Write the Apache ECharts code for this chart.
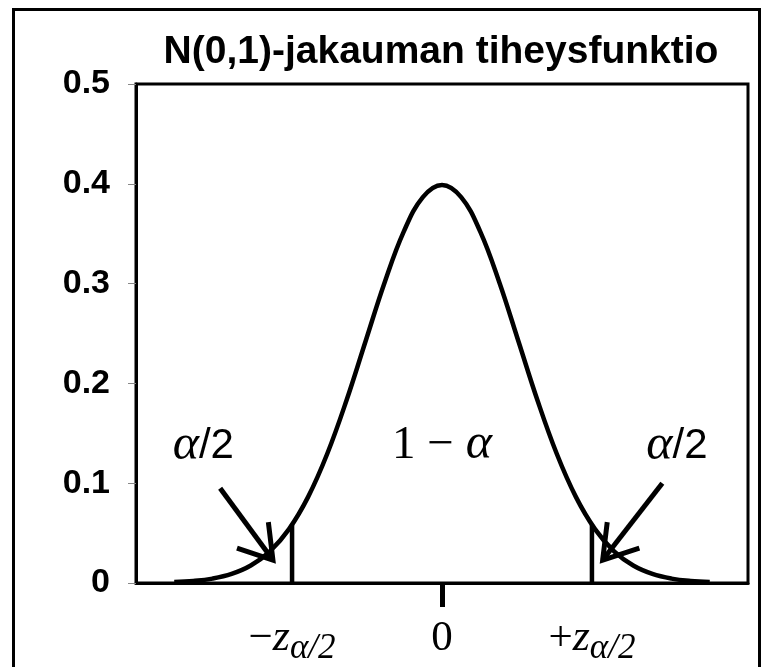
<!DOCTYPE html>
<html>
<head>
<meta charset="utf-8">
<script src="https://cdn.jsdelivr.net/npm/echarts@6/dist/echarts.min.js"></script>
<style>
  html, body { margin: 0; padding: 0; background: #fff; }
  #chart { width: 762px; height: 667px; }
</style>
</head>
<body>
<div id="chart"></div>
<script>
// ---- data ----
const titleText = 'N(0,1)-jakauman tiheysfunktio';
const xValues = [-3.5, -3.25, -3, -2.75, -2.5, -2.25, -2, -1.75, -1.5, -1.25, -1, -0.75, -0.5, -0.25,
                 0, 0.25, 0.5, 0.75, 1, 1.25, 1.5, 1.75, 2, 2.25, 2.5, 2.75, 3, 3.25, 3.5];
const density = [0.0009, 0.0020, 0.0044, 0.0091, 0.0175, 0.0317, 0.0540, 0.0863, 0.1295, 0.1826, 0.2420, 0.3011, 0.3521, 0.3867,
                 0.3989, 0.3867, 0.3521, 0.3011, 0.2420, 0.1826, 0.1295, 0.0863, 0.0540, 0.0317, 0.0175, 0.0091, 0.0044, 0.0020, 0.0009];
const criticalX = [-1.96, 1.96];
const criticalY = [0.0584, 0.0584];
const yTicks = [0, 0.1, 0.2, 0.3, 0.4, 0.5];
const xLabelValues = [-1.96, 0, 1.96];
// annotation anchors (data space)
const annotX = [-3.12, 0, 3.07];
const annotY = [0.137, 0.138, 0.137];
const annotText = ['a2', 'one', 'a2'];
const leftArrowShaft = [[-2.90, 0.095], [-2.21, 0.023]];
const leftArrowHead = [[-2.68, 0.035], [-2.21, 0.023], [-2.27, 0.061]];
const rightArrowShaft = [[2.88, 0.100], [2.10, 0.023]];
const rightArrowHead = [[2.58, 0.035], [2.10, 0.023], [2.16, 0.061]];

const chart = echarts.init(document.getElementById('chart'), null, { renderer: 'canvas' });

const curveData = xValues.map((x, i) => [x, density[i]]);
const critSeries = criticalX.map((x, i) => ({
  type: 'line', data: [[x, 0], [x, criticalY[i]]], symbol: 'none', silent: true,
  lineStyle: { color: '#000', width: 4.5, cap: 'butt' }, z: 4
}));
const arrowStyle = { color: '#000', width: 5, cap: 'butt', join: 'miter' };
const arrowSeries = [leftArrowShaft, leftArrowHead, rightArrowShaft, rightArrowHead].map(d => ({
  type: 'line', data: d, symbol: 'none', silent: true, lineStyle: arrowStyle, z: 5
}));

const serif = '"Liberation Serif", "Times New Roman", serif';
const sans = '"Liberation Sans", Arial, sans-serif';

const option = {
  animation: false,
  backgroundColor: '#fff',
  title: {
    text: titleText, left: 441, top: 33, textAlign: 'center', padding: 0,
    textStyle: { fontFamily: sans, fontWeight: 'bold', fontSize: 39, color: '#000' }
  },
  grid: {
    left: 136, right: 14, top: 84, bottom: 84,
    show: true, borderColor: '#000', borderWidth: 3, backgroundColor: 'transparent'
  },
  graphic: [{
    type: 'rect', left: 11, top: 7, silent: true,
    shape: { width: 746, height: 700 },
    style: { fill: 'none', stroke: '#000', lineWidth: 3 }
  }],
  xAxis: {
    type: 'value', min: -4, max: 4,
    splitLine: { show: false },
    axisLine: { show: true, onZero: false, lineStyle: { color: '#000', width: 3 } },
    axisTick: { show: true, customValues: [0], length: 24, lineStyle: { color: '#000', width: 5 } },
    axisLabel: {
      show: true, customValues: xLabelValues, margin: 28,
      formatter: v => (Math.abs(v) < 1e-9 ? '{n|0}{h| }' : (v < 0 ? '{n|−}{z|z}{s|α/2}' : '{n|+}{z|z}{s|α/2}')),
      rich: {
        n: { fontFamily: serif, fontSize: 43, color: '#000' },
        z: { fontFamily: serif, fontStyle: 'italic', fontSize: 44, color: '#000' },
        s: { fontFamily: serif, fontStyle: 'italic', fontSize: 35, color: '#000', padding: [20, 0, 0, 0] },
        h: { fontFamily: serif, fontSize: 35, width: 0, padding: [20, 0, 0, 0] }
      }
    }
  },
  yAxis: {
    type: 'value', min: 0, max: 0.5, interval: 0.1,
    splitLine: { show: false },
    axisLine: { show: true, onZero: false, lineStyle: { color: '#000', width: 3 } },
    axisTick: { show: true, length: 8, lineStyle: { color: '#888', width: 1 } },
    axisLabel: {
      margin: 26, color: '#000', fontFamily: sans, fontWeight: 'bold', fontSize: 34,
      formatter: v => (v === 0 ? '0' : v.toFixed(1))
    }
  },
  series: [
    {
      type: 'line', data: curveData, smooth: 0.4, symbol: 'none', silent: true,
      lineStyle: { color: '#000', width: 4.5 }, z: 3
    },
    ...critSeries,
    ...arrowSeries,
    {
      type: 'scatter', silent: true, symbol: 'circle', symbolSize: 0.01, itemStyle: { color: '#000', opacity: 1 },
      data: annotX.map((x, i) => ({ value: [x, annotY[i]], name: annotText[i] })),
      label: {
        show: true, position: 'inside', color: '#000', textBorderWidth: 0, opacity: 1,
        formatter: p => (p.name === 'one' ? '{o|1 − }{ai|α}' : '{ai|α}{sl|/2}'),
        rich: {
          o: { fontFamily: serif, fontSize: 47, color: '#000', textBorderWidth: 0 },
          ai: { fontFamily: serif, fontStyle: 'italic', fontSize: 50, color: '#000', textBorderWidth: 0 },
          sl: { fontFamily: sans, fontSize: 42, color: '#000', textBorderWidth: 0 }
        }
      }, z: 6
    }
  ]
};
chart.setOption(option);
</script>
</body>
</html>
